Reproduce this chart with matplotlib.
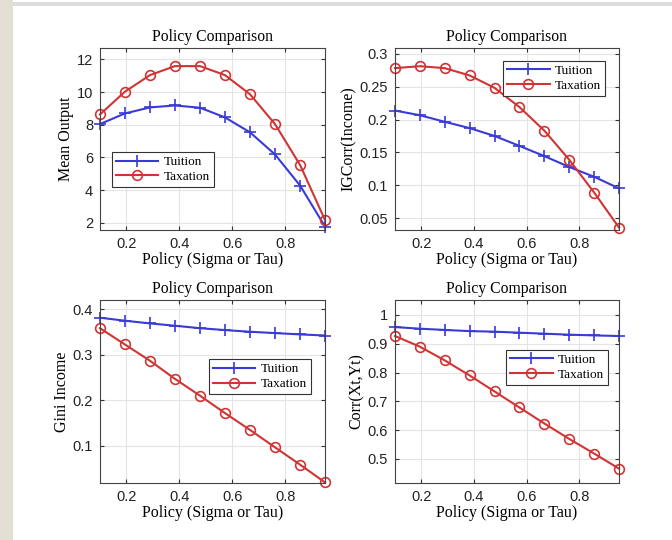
import numpy as np
import matplotlib
matplotlib.use("Agg")
import matplotlib.pyplot as plt
from matplotlib.patches import Rectangle

# policy grid (sigma or tau)
policy = [0.1, 0.194, 0.289, 0.383, 0.478, 0.572, 0.667, 0.761, 0.856, 0.95]

# mean output
out_tuition  = [8.04, 8.69, 9.06, 9.18, 9.04, 8.45, 7.53, 6.18, 4.27, 1.76]
out_taxation = [8.63, 10.02, 11.04, 11.59, 11.59, 11.04, 9.86, 8.04, 5.53, 2.16]

# intergenerational correlation of income
igc_tuition  = [0.2136, 0.2066, 0.1965, 0.187, 0.175, 0.160, 0.1444, 0.128, 0.113, 0.0955]
igc_taxation = [0.278, 0.281, 0.278, 0.267, 0.248, 0.219, 0.183, 0.139, 0.089, 0.036]

# gini of income
gini_tuition  = [0.381, 0.3744, 0.3685, 0.3634, 0.358, 0.3539, 0.3502, 0.3473, 0.3444, 0.342]
gini_taxation = [0.358, 0.3224, 0.2866, 0.247, 0.210, 0.172, 0.135, 0.097, 0.059, 0.020]

# corr(Xt, Yt)
corr_tuition  = [0.958, 0.9524, 0.948, 0.944, 0.942, 0.9385, 0.935, 0.9316, 0.929, 0.927]
corr_taxation = [0.927, 0.890, 0.8422, 0.790, 0.7343, 0.6787, 0.623, 0.5696, 0.5186, 0.4664]

blue = '#3a3ad8'
red = '#d03434'
serif = ['Liberation Serif', 'DejaVu Serif']

plt.rcParams['font.family'] = ['Liberation Sans', 'DejaVu Sans']

W, H = 672, 540
fig = plt.figure(figsize=(W / 100, H / 100), dpi=100)
fig.patch.set_facecolor('white')

# window decorations of the screenshot
fig.add_artist(Rectangle((0, 0), 13 / W, 1, transform=fig.transFigure,
                         facecolor='#e2dfd2', edgecolor='none', zorder=0))
fig.add_artist(Rectangle((13 / W, 1 - 6 / H), 1, 4 / H, transform=fig.transFigure,
                         facecolor='#dcdcdc', edgecolor='none', zorder=0))

# axes boxes in pixels: left, right, top, bottom
boxes = [(100, 325, 48, 230), (395, 619, 48, 230),
         (100, 325, 300, 483), (395, 619, 300, 483)]

panels = [
    (out_tuition, out_taxation, 'Mean Output', (1.55, 12.7), [2, 4, 6, 8, 10, 12],
     ['2', '4', '6', '8', '10', '12'], (0.053, 0.236)),
    (igc_tuition, igc_taxation, 'IGCorr(Income)', (0.0323, 0.3086), [0.05, 0.1, 0.15, 0.2, 0.25, 0.3],
     ['0.05', '0.1', '0.15', '0.2', '0.25', '0.3'], (0.484, 0.738)),
    (gini_tuition, gini_taxation, 'Gini Income', (0.0188, 0.4198), [0.1, 0.2, 0.3, 0.4],
     ['0.1', '0.2', '0.3', '0.4'], (0.484, 0.485)),
    (corr_tuition, corr_taxation, 'Corr(Xt,Yt)', (0.4165, 1.052), [0.5, 0.6, 0.7, 0.8, 0.9, 1.0],
     ['0.5', '0.6', '0.7', '0.8', '0.9', '1'], (0.497, 0.538)),
]

for (l, r, t, b), (tu, ta, ylab, ylim, yt, ytl, lpos) in zip(boxes, panels):
    ax = fig.add_axes([l / W, 1 - b / H, (r - l) / W, (b - t) / H])
    ax.plot(policy, tu, '-+', color=blue, lw=1.5, ms=9, mew=1.2, label='Tuition', clip_on=False)
    ax.plot(policy, ta, '-o', color=red, lw=1.5, ms=7, mew=1.2, mfc='none', label='Taxation', clip_on=False)
    ax.set_xlim(0.1, 0.95)
    ax.set_ylim(*ylim)
    ax.set_xticks([0.2, 0.4, 0.6, 0.8])
    ax.set_xticklabels(['0.2', '0.4', '0.6', '0.8'])
    ax.set_yticks(yt)
    ax.set_yticklabels(ytl)
    ax.grid(True, color='#e4e4e4', lw=0.8)
    ax.set_axisbelow(True)
    ax.tick_params(direction='in', top=True, right=True, labelsize=10.5, length=3,
                   color='#333333', labelcolor='#222222')
    ax.tick_params(axis='x', pad=5)
    ax.tick_params(axis='y', pad=5)
    for sp in ax.spines.values():
        sp.set_color('#444444')
        sp.set_linewidth(0.8)
    ax.set_title('Policy Comparison', family=serif, fontsize=11.3, pad=5)
    ax.set_xlabel('Policy (Sigma or Tau)', family=serif, fontsize=11.5, labelpad=1)
    ax.set_ylabel(ylab, family=serif, fontsize=11.5, labelpad=2)
    leg = ax.legend(loc='lower left', bbox_to_anchor=lpos, prop={'family': serif, 'size': 9.5},
                    fancybox=False, framealpha=1, edgecolor='#333333', handlelength=3.2,
                    borderpad=0.3, labelspacing=0.2, handletextpad=0.4, borderaxespad=0)
    leg.get_frame().set_linewidth(0.8)

fig.savefig('out.png', dpi=100)
